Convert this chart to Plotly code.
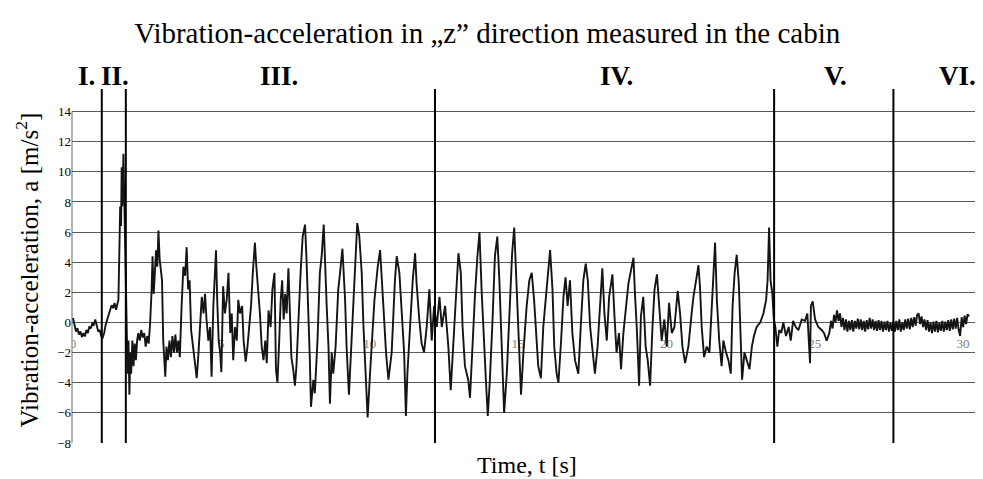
import plotly.graph_objects as go

# phase boundaries [s] and phase names
phase_bounds = [0.97, 1.78, 12.2, 23.63, 27.65]
phase_names = ['I.', 'II.', 'III.', 'IV.', 'V.', 'VI.']

x_ticks = [0, 5, 10, 15, 20, 25, 30]
y_ticks = [-8, -6, -4, -2, 0, 2, 4, 6, 8, 10, 12, 14]

# ---- measured signal, phase by phase ----
t_I = [0.00, 0.05, 0.10, 0.15, 0.20, 0.25, 0.30, 0.35, 0.40, 0.45, 0.50, 0.55,
       0.60, 0.65, 0.70, 0.75, 0.80, 0.85, 0.90, 0.95]
a_I = [0.3, -0.27, -0.6, -0.38, -0.8, -0.6, -0.97, -0.7, -0.93, -0.5, -0.7, -0.27,
       -0.4, -0.05, -0.15, 0.2, -0.3, -0.6, -0.5, -0.9]

t_II = [1.00, 1.05, 1.10, 1.15, 1.20, 1.25, 1.30, 1.35, 1.40, 1.45, 1.50, 1.53,
        1.56, 1.59, 1.62, 1.64, 1.66, 1.68, 1.70, 1.72, 1.75, 1.78]
a_II = [-1.0, -0.7, -0.15, 0.2, 0.6, 0.85, 1.15, 0.95, 1.3, 0.85, 1.3, 1.5,
        4.5, 7.7, 6.4, 10.3, 7.7, 9.5, 11.2, 9.0, 5.5, 1.5]

t_III = [1.81, 1.84, 1.87, 1.90, 1.93, 1.96, 2.00, 2.04, 2.08, 2.12, 2.16, 2.20,
         2.25, 2.30, 2.35, 2.40, 2.45, 2.50, 2.55, 2.60, 2.65, 2.68, 2.72, 2.76,
         2.80, 2.84, 2.88, 2.92, 2.96, 3.00, 3.04, 3.07, 3.11, 3.15, 3.20, 3.25,
         3.30, 3.35, 3.40, 3.45, 3.50, 3.55, 3.60, 3.66, 3.72, 3.78, 3.83, 3.88,
         3.93, 3.98, 4.05, 4.11, 4.17, 4.22, 4.28, 4.34, 4.40, 4.45, 4.50, 4.56,
         4.62, 4.67, 4.73, 4.78, 4.82, 4.86, 4.91, 4.96, 5.00, 5.06, 5.12, 5.18,
         5.24, 5.30, 5.35, 5.40, 5.46, 5.52, 5.57, 5.63, 5.70, 5.75, 5.82, 5.88,
         5.94, 6.00, 6.06, 6.13, 6.18, 6.24, 6.30, 6.36, 6.42, 6.48, 6.53, 6.59,
         6.66, 6.72, 6.79, 6.84, 6.89, 6.95, 7.00, 7.05, 7.10, 7.15, 7.20, 7.26,
         7.31, 7.36, 7.42, 7.48, 7.53, 7.59, 7.67, 7.74, 7.82, 7.87, 7.93, 7.98,
         8.02, 8.10, 8.15, 8.24, 8.32, 8.38, 8.45, 8.49, 8.55, 8.61, 8.66, 8.72,
         8.77, 8.85, 8.94, 9.00, 9.08, 9.17, 9.22, 9.30, 9.39, 9.50, 9.58, 9.65,
         9.73, 9.79, 9.86, 9.93, 10.01, 10.07, 10.16, 10.27, 10.35, 10.46, 10.55,
         10.63, 10.74, 10.85, 10.91, 11.00, 11.08, 11.16, 11.22, 11.27, 11.36,
         11.45, 11.53, 11.58, 11.67, 11.75, 11.83, 11.92, 12.01, 12.09, 12.17]
a_III = [-1.6, -3.4, -1.2, -4.8, -2.0, -3.4, -1.2, -2.9, -1.4, -2.5, -1.2, -0.7,
         -1.2, -0.5, -1.0, -0.7, -1.6, -0.9, -1.4, 0.0, 2.2, 4.4, 1.9, 3.7,
         4.8, 3.7, 6.1, 4.2, 3.3, 2.8, -1.2, -2.3, -3.6, -1.6, -2.5, -1.2,
         -2.3, -0.9, -2.0, -0.8, -2.0, -1.2, -2.3, 1.1, 3.7, 3.1, 5.0, 2.2,
         2.8, -0.5, -1.8, -2.5, -3.7, -2.3, -0.3, 1.7, 0.6, 1.9, 0.2, -1.2,
         -0.3, -3.6, 1.1, 2.8, 4.8, 1.5, -1.2, -2.0, -3.3, 2.4, 0.6, 1.5,
         3.3, -0.7, 0.6, -2.5, -0.3, -1.2, 1.5, 0.6, 1.1, -1.2, -2.6, -1.6,
         -0.3, 1.1, 3.3, 5.3, 3.7, 2.2, 0.6, -1.6, -2.5, -1.2, -2.7, 0.8,
         -0.3, 2.2, 3.3, -3.1, -4.0, -1.2, 1.5, 2.8, 0.2, 1.9, 0.6, 3.6,
         1.1, -2.3, -3.1, -4.2, -2.9, 0.2, 3.3, 5.7, 6.5, 4.2, 1.1, -2.3,
         -5.6, -3.8, -4.7, -1.2, 3.3, 4.4, 6.5, 3.7, 1.1, -1.6, -5.4, -2.0,
         -3.4, -1.6, 2.2, 3.3, 4.9, 1.5, -1.6, -4.8, -1.2, 3.3, 6.6, 5.7,
         3.3, -0.3, -3.8, -6.3, -3.4, -1.6, 1.5, 3.7, 4.8, 1.1, -2.0,
         -3.8, -2.0, 2.8, 4.4, 3.3, 0.6, -2.0, -6.2, -3.4, -0.3,
         2.8, 4.6, 2.6, 0.2, -1.4, -2.0, -0.3, 2.2, -1.2, 1.1]

t_IV = [12.26, 12.35, 12.43, 12.54, 12.65, 12.73, 12.82, 12.93, 12.99, 13.07,
        13.13, 13.21, 13.32, 13.38, 13.47, 13.55, 13.63, 13.70, 13.77, 13.83,
        13.92, 13.98, 14.05, 14.14, 14.22, 14.30, 14.37, 14.45, 14.53, 14.62,
        14.71, 14.80, 14.87, 14.95, 15.04, 15.10, 15.18, 15.29, 15.38, 15.46,
        15.54, 15.63, 15.68, 15.77, 15.85, 15.93, 16.00, 16.08, 16.16, 16.22,
        16.30, 16.36, 16.45, 16.53, 16.60, 16.67, 16.75, 16.83, 16.92, 17.03,
        17.12, 17.20, 17.28, 17.35, 17.43, 17.50, 17.59, 17.68, 17.76, 17.84,
        17.91, 17.99, 18.07, 18.18, 18.25, 18.32, 18.40, 18.47, 18.55, 18.63,
        18.72, 18.81, 18.89, 18.94, 19.00, 19.08, 19.14, 19.22, 19.30, 19.37,
        19.45, 19.53, 19.60, 19.68, 19.75, 19.84, 19.93, 20.01, 20.09, 20.18,
        20.27, 20.38, 20.46, 20.54, 20.63, 20.74, 20.85, 20.91, 21.00, 21.08,
        21.13, 21.19, 21.27, 21.36, 21.45, 21.53, 21.58, 21.64, 21.70, 21.78,
        21.86, 21.92, 22.01, 22.09, 22.17, 22.23, 22.30, 22.37, 22.44, 22.48,
        22.55, 22.63, 22.71, 22.80, 22.88, 22.95, 23.04, 23.16, 23.27, 23.36,
        23.41, 23.46, 23.51, 23.57, 23.62]
a_IV = [-0.3, 1.7, -0.3, 1.1, -1.6, -4.5, -1.6, 2.2, 4.6, 3.3,
        -0.3, -2.9, -3.8, -5.0, -1.2, 1.9, 4.4, 6.0, 2.2, -0.7,
        -4.0, -6.2, -3.8, 0.2, 4.4, 5.7, 2.8, -1.6, -6.0, -3.4,
        1.1, 4.6, 6.3, 2.8, -1.6, -4.8, -2.0, 1.1, 2.8, 3.3,
        1.5, -1.2, -2.9, -3.7, -0.3, 1.5, 3.3, 4.8, 2.2, -1.6,
        -3.4, -4.0, -1.2, 1.7, 3.0, 1.1, 2.8, -0.7, -2.5, -3.4,
        0.0, 2.8, 3.9, 2.8, -0.3, -1.6, -3.4, -1.6, 1.1, 3.6,
        0.6, -1.2, 1.7, 3.2, 0.4, -2.0, -0.7, -3.1, -0.7, 1.1,
        2.6, 3.5, 4.3, 1.9, -0.3, -4.2, 0.4, 1.7, -1.6, -2.5,
        -4.2, -0.3, 2.2, 3.2, 1.5, -1.2, 0.2, -1.6, 1.3, -0.7,
        -0.3, 2.1, 0.6, -1.6, -2.7, -1.6, 0.6, 1.7, 2.8, 3.8,
        2.4, -0.3, -2.3, -1.6, -2.0, 1.5, 3.3, 5.3, 1.5, -1.2,
        -2.9, -1.2, -2.0, -2.5, -3.4, 1.1, 3.3, 4.5, 2.6, 0.6,
        -3.8, -2.0, -2.5, -3.1, -1.6, -0.9, -0.3, 0.0, 0.6, 1.5,
        2.8, 6.3, 2.8, 1.9, 0.2]

t_V = [23.67, 23.74, 23.80, 23.87, 23.94, 24.03, 24.12, 24.19, 24.27, 24.36,
       24.45, 24.56, 24.67, 24.75, 24.84, 24.87, 24.93, 25.01, 25.12, 25.23,
       25.31, 25.40, 25.49, 25.55, 25.60, 25.65, 25.70, 25.75, 25.80, 25.85,
       25.90, 25.95, 26.00, 26.05, 26.10, 26.15, 26.20, 26.25, 26.30, 26.35,
       26.40, 26.45, 26.50, 26.55, 26.60, 26.65, 26.70, 26.75, 26.80, 26.85,
       26.90, 26.95, 27.00, 27.05, 27.10, 27.15, 27.20, 27.25, 27.30, 27.35,
       27.40, 27.45, 27.50, 27.55, 27.60, 27.65]
a_V = [-0.3, -1.6, -0.5, -0.7, 0.0, -0.9, -0.3, -1.2, 0.1, -0.3,
       -0.5, 0.2, 0.1, 0.6, -2.7, 1.1, 1.4, 0.2, -0.3, -0.5,
       -0.7, -1.2, -0.7, 0.1, -0.4, 0.5, 0.0, 0.8, 0.1, 0.6,
       -0.3, 0.3, -0.5, 0.2, -0.6, 0.1, -0.5, 0.15, -0.6, 0.1,
       -0.4, 0.25, -0.45, 0.2, -0.5, 0.1, -0.6, 0.15, -0.45, 0.3,
       -0.4, 0.2, -0.5, 0.1, -0.55, 0.15, -0.5, 0.1, -0.6, 0.05,
       -0.5, 0.1, -0.6, 0.0, -0.55, 0.05]

t_VI = [27.70, 27.75, 27.80, 27.85, 27.90, 27.95, 28.00, 28.05, 28.10, 28.15,
        28.20, 28.25, 28.30, 28.35, 28.40, 28.45, 28.50, 28.55, 28.60, 28.65,
        28.70, 28.75, 28.80, 28.85, 28.90, 28.95, 29.00, 29.05, 29.10, 29.15,
        29.20, 29.25, 29.30, 29.35, 29.40, 29.45, 29.50, 29.55, 29.60, 29.65,
        29.70, 29.75, 29.80, 29.85, 29.90, 29.95, 30.00, 30.05, 30.10, 30.15,
        30.20]
a_VI = [-0.6, 0.1, -0.5, 0.2, -0.6, 0.0, -0.5, 0.2, -0.4, 0.25,
        -0.45, 0.3, -0.3, 0.35, -0.2, 0.5, 0.6, -0.1, 0.4, -0.3,
        0.2, -0.5, 0.15, -0.6, 0.0, -0.7, 0.05, -0.6, 0.1, -0.65,
        0.0, -0.55, 0.1, -0.6, 0.05, -0.5, 0.15, -0.55, 0.2, -0.45,
        0.25, -0.4, 0.3, -0.5, -0.9, 0.35, -0.3, 0.45, -0.1, 0.55,
        0.4]

t_all = t_I + t_II + t_III + t_IV + t_V + t_VI
a_all = a_I + a_II + a_III + a_IV + a_V + a_VI

serif = 'Liberation Serif'

fig = go.Figure()

# x tick labels sit on the zero line (under the curve)
fig.add_trace(go.Scatter(x=x_ticks, y=[-1.45] * len(x_ticks), mode='text',
                         text=[str(v) for v in x_ticks],
                         textfont=dict(family=serif, size=13, color='#808080'),
                         hoverinfo='skip', showlegend=False))

fig.add_trace(go.Scatter(x=t_all, y=a_all, mode='lines',
                         line=dict(color='#141414', width=1.9),
                         showlegend=False))

shapes = []
# y axis line only over the gridded part
shapes.append(dict(type='line', xref='paper', yref='y', x0=0, x1=0, y0=-8, y1=14,
                   line=dict(color='#808080', width=1.2), layer='below'))
for b in phase_bounds:
    shapes.append(dict(type='line', xref='x', yref='paper', x0=b, x1=b, y0=0, y1=1,
                       line=dict(color='black', width=2)))

label_x = [0.47, 1.43, 6.93, 18.32, 25.7, 29.8]
annotations = []
for name, lx in zip(phase_names, label_x):
    annotations.append(dict(x=lx, y=1.037, xref='x', yref='paper', text='<b>' + name + '</b>',
                            showarrow=False, yanchor='middle',
                            font=dict(family=serif, size=27, color='black')))
annotations.append(dict(x=0.499, y=-0.02, xref='paper', yref='paper', text='Time, t [s]',
                        showarrow=False, yanchor='top',
                        font=dict(family=serif, size=24, color='black')))
annotations.append(dict(x=-0.0494, y=0.49, xref='paper', yref='paper',
                        text='Vibration-acceleration, a [m/s<sup>2</sup>]', textangle=-90,
                        showarrow=False, xanchor='center', yanchor='middle',
                        font=dict(family=serif, size=25, color='black')))

# page body has an 8px margin, so the figure is 8px smaller than the window
fig.update_layout(
    width=975, height=471,
    margin=dict(l=64, r=0, t=81, b=36),
    paper_bgcolor='white', plot_bgcolor='white',
    title=dict(text='Vibration-acceleration in \u201ez\u201d direction measured in the cabin',
               x=0.4915, xanchor='center', y=0.947, yanchor='middle',
               font=dict(family=serif, size=29, color='black')),
    xaxis=dict(range=[-0.034, 30.67], showgrid=False, zeroline=False, automargin=False,
               showticklabels=False, showline=False, ticks=''),
    yaxis=dict(range=[-8, 15.5], tickvals=y_ticks, showgrid=True, gridcolor='#5a5a5a',
               gridwidth=1.2, zeroline=False, showline=False, automargin=False,
               tickfont=dict(family=serif, size=13, color='black')),
    shapes=shapes, annotations=annotations,
)

fig.write_html("out.html")
